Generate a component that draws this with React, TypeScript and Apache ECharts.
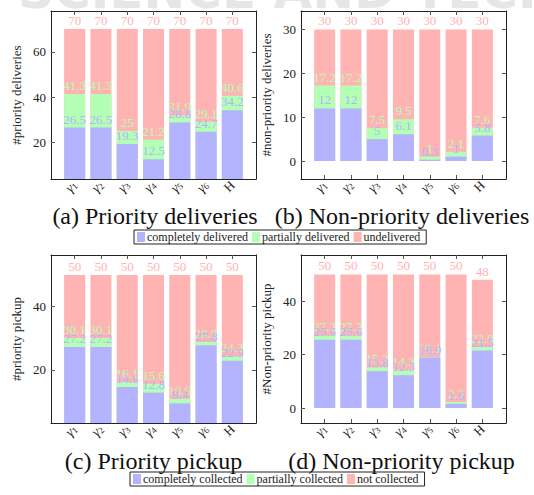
import { useEffect, useRef } from 'react';
import * as echarts from 'echarts';

// ---------- data ----------
const categories = ['γ1', 'γ2', 'γ3', 'γ4', 'γ5', 'γ6', 'H'];

const priDelCompleted = [26.5, 26.5, 19.3, 12.5, 28.8, 24.7, 34.2];
const priDelPartial = [41.3, 41.3, 25, 21.2, 31.9, 29.1, 40.6];
const priDelTotal = [70, 70, 70, 70, 70, 70, 70];

const nonPriDelCompleted = [12, 12, 5, 6.1, 0.3, 1, 5.8];
const nonPriDelPartial = [17.2, 17.2, 7.5, 9.5, 1, 2.1, 7.6];
const nonPriDelTotal = [30, 30, 30, 30, 30, 30, 30];

const priPickCompleted = [27.2, 27.2, 14.6, 12.8, 9.4, 27.8, 22.9];
const priPickPartial = [30.1, 30.1, 16.1, 15.6, 10.9, 28.8, 24.3];
const priPickTotal = [50, 50, 50, 50, 50, 50, 50];

const nonPriPickCompleted = [25.6, 25.6, 13.8, 12.3, 18.9, 1.6, 21.5];
const nonPriPickPartial = [27.2, 27.2, 15.2, 14.3, 19.1, 2.3, 22.9];
const nonPriPickTotal = [50, 50, 50, 50, 50, 50, 48];

const yTicksA = [20, 40, 60];
const yTicksB = [0, 10, 20, 30];
const yTicksC = [20, 40];
const yTicksD = [0, 20, 40];

const deliveryNames = ['completely delivered', 'partially delivered', 'undelivered'];
const pickupNames = ['completely collected', 'partially collected', 'not collected'];

const captions = ['(a) Priority deliveries', '(b) Non-priority deliveries', '(c) Priority pickup', '(d) Non-priority pickup'];
const yNames = ['#priority deliveries', '#non-priority deliveries', '#priority pickup', '#Non-priority pickup'];

// ---------- style ----------
const SERIF = 'Liberation Serif';
const BLUE = '#b3b3ff';
const GREEN = '#b3ffb3';
const RED = '#ffb3b3';
const FRAME = '#222';
const TICK = '#555';

const panels = [
  { left: 51, top: 11, yMin: 3.8, yMax: 78, ticks: yTicksA, data: [priDelCompleted, priDelPartial, priDelTotal], names: deliveryNames },
  { left: 301, top: 11, yMin: -4.1, yMax: 34.2, ticks: yTicksB, data: [nonPriDelCompleted, nonPriDelPartial, nonPriDelTotal], names: deliveryNames },
  { left: 51, top: 255, yMin: 3.2, yMax: 56.3, ticks: yTicksC, data: [priPickCompleted, priPickPartial, priPickTotal], names: pickupNames },
  { left: 301, top: 255, yMin: -5.6, yMax: 57.3, ticks: yTicksD, data: [nonPriPickCompleted, nonPriPickPartial, nonPriPickTotal], names: pickupNames },
];
const GW = 205;
const GH = 168;
const catIdx = categories.map((_, i) => i);

function catLabel(v: number) {
  const c = categories[Math.round(v)] ?? '';
  if (c.startsWith('γ')) return `{g|γ}{s|${c.slice(1)}}`;
  return `{h|${c}}`;
}

export default function App() {
  const ref = useRef<HTMLDivElement>(null);
  useEffect(() => {
    if (!ref.current) return;
    const chart = echarts.init(ref.current, undefined, { renderer: 'svg' });

    const grids: any[] = [];
    const xAxes: any[] = [];
    const yAxes: any[] = [];
    const series: any[] = [];

    panels.forEach((p) => {
      grids.push({ left: p.left, top: p.top, width: GW, height: GH, containLabel: false });
    });
    panels.forEach((p, g) => {
      xAxes.push({
        type: 'value', gridIndex: g, min: -0.9, max: 6.9, position: 'bottom',
        axisLine: { show: true, onZero: false, lineStyle: { color: FRAME, width: 1 } },
        axisTick: { show: true, inside: true, length: 4, customValues: catIdx, lineStyle: { color: TICK } },
        axisLabel: {
          show: true, customValues: catIdx, rotate: 45, margin: 4,
          formatter: (v: number) => catLabel(v),
          rich: {
            g: { fontFamily: SERIF, fontSize: 14, fontStyle: 'italic', color: '#222' },
            s: { fontFamily: SERIF, fontSize: 9, color: '#222', verticalAlign: 'bottom' },
            h: { fontFamily: SERIF, fontSize: 13, color: '#222' },
          },
        },
        splitLine: { show: false },
      });
    });
    panels.forEach((p, g) => {
      xAxes.push({
        type: 'value', gridIndex: g, min: -0.9, max: 6.9, position: 'top',
        axisLine: { show: true, onZero: false, lineStyle: { color: FRAME, width: 1 } },
        axisTick: { show: true, inside: true, length: 4, customValues: catIdx, lineStyle: { color: TICK } },
        axisLabel: { show: false },
        splitLine: { show: false },
      });
    });
    panels.forEach((p, g) => {
      yAxes.push({
        type: 'value', gridIndex: g, min: p.yMin, max: p.yMax, position: 'left',
        axisLine: { show: true, onZero: false, lineStyle: { color: FRAME, width: 1 } },
        axisTick: { show: true, inside: true, length: 4, customValues: p.ticks, lineStyle: { color: TICK } },
        axisLabel: { show: true, customValues: p.ticks, margin: 5, fontFamily: SERIF, fontSize: 13, color: '#222' },
        splitLine: { show: false },
        name: yNames[g], nameLocation: 'middle', nameGap: 28,
        nameTextStyle: { fontFamily: SERIF, fontSize: 13, color: '#222' },
      });
    });
    panels.forEach((p, g) => {
      yAxes.push({
        type: 'value', gridIndex: g, min: p.yMin, max: p.yMax, position: 'right',
        axisLine: { show: true, onZero: false, lineStyle: { color: FRAME, width: 1 } },
        axisTick: { show: true, inside: true, length: 4, customValues: p.ticks, lineStyle: { color: TICK } },
        axisLabel: { show: false },
        splitLine: { show: false },
      });
    });

    panels.forEach((p, g) => {
      const [completed, partial, total] = p.data;
      const layers = [
        { name: p.names[2], values: total, color: RED },
        { name: p.names[1], values: partial, color: GREEN },
        { name: p.names[0], values: completed, color: BLUE },
      ];
      layers.forEach((l) => {
        series.push({
          type: 'bar', name: l.name, xAxisIndex: g, yAxisIndex: g,
          data: l.values.map((v, i) => [i, v]),
          barWidth: 21, barGap: '-100%',
          itemStyle: { color: l.color },
          label: {
            show: true, position: 'top', distance: 2, color: l.color,
            fontFamily: SERIF, fontSize: 13,
            formatter: (d: any) => String(d.value[1]),
          },
        });
      });
    });

    const legendCommon = {
      orient: 'horizontal', icon: 'rect', itemWidth: 8, itemHeight: 10, itemGap: 4,
      borderColor: FRAME, borderWidth: 1, padding: [1, 6, 1, 3],
      textStyle: { fontFamily: SERIF, fontSize: 12, color: '#222', padding: [0, 0, 0, -3] },
      selectedMode: false,
    };

    const graphics: any[] = [
      {
        type: 'text', z: -10, left: 18, top: -34,
        style: { text: 'SCIENCE AND TECHNOLOGY', font: "bold 50px 'DejaVu Sans', sans-serif", fill: '#e6e6e6' },
      },
    ];
    const capPos = [[155, 216], [402, 216], [153.5, 461], [401.5, 461]];
    captions.forEach((c, i) => {
      graphics.push({
        type: 'text', x: capPos[i][0], y: capPos[i][1],
        style: { text: c, font: `24px ${SERIF}`, fill: '#111', textAlign: 'center', textVerticalAlign: 'middle' },
      });
    });

    chart.setOption({
      animation: false,
      backgroundColor: '#fff',
      grid: grids,
      xAxis: xAxes,
      yAxis: yAxes,
      series,
      legend: [
        { ...legendCommon, data: deliveryNames, left: 134, top: 230 },
        { ...legendCommon, data: pickupNames, left: 130, top: 472 },
      ],
      graphic: graphics,
    });
    return () => chart.dispose();
  }, []);

  return <div ref={ref} style={{ position: 'fixed', left: 0, top: 0, width: 534, height: 495 }} />;
}
